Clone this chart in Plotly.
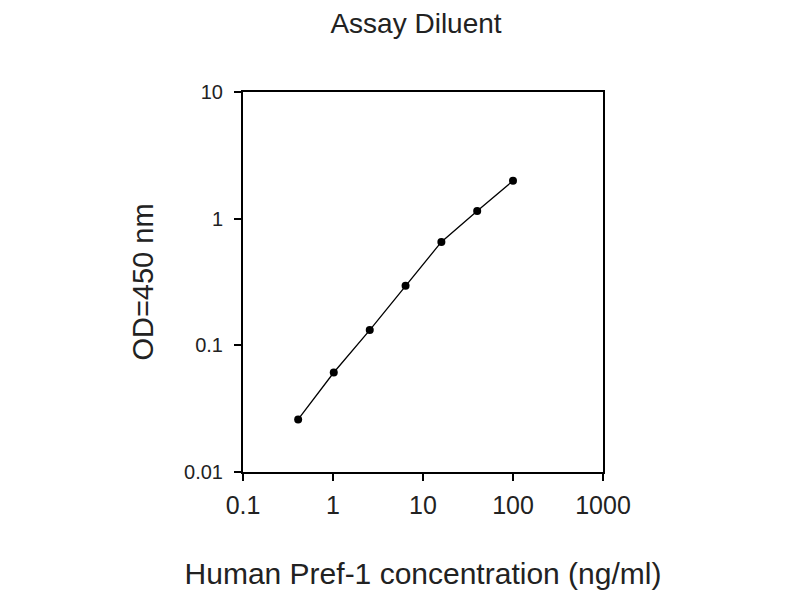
import plotly.graph_objects as go

concentration = [0.41, 1.02, 2.56, 6.4, 16, 40, 100]
od450 = [0.026, 0.061, 0.132, 0.295, 0.655, 1.15, 1.99]

x_tickvals = [0.1, 1, 10, 100, 1000]
x_ticktext = ["0.1", "1", "10", "100", "1000"]
y_tickvals = [0.01, 0.1, 1, 10]
y_ticktext = ["0.01", "0.1", "1", "10"]

font_family = "Liberation Sans, Arial, sans-serif"

fig = go.Figure()
fig.add_trace(go.Scatter(
    x=concentration, y=od450, mode="lines+markers",
    line=dict(color="black", width=1.3),
    marker=dict(color="black", size=8),
    showlegend=False,
))

fig.update_layout(
    width=800, height=600,
    margin=dict(l=235, r=205, t=84, b=136),
    paper_bgcolor="white", plot_bgcolor="white",
    font=dict(family=font_family, color="#222222"),
    title=dict(text="Assay Diluent", x=408/800, xanchor="center",
               y=1 - 15/600, yanchor="middle", font=dict(size=28, color="#222222")),
)
fig.update_xaxes(
    type="log", range=[-1, 3],
    tickvals=x_tickvals, ticktext=x_ticktext,
    ticks="outside", ticklen=7, tickwidth=2, tickcolor="black",
    showline=True, linewidth=2, linecolor="black", mirror=True,
    showgrid=False, zeroline=False,
    ticklabelstandoff=3,
    tickfont=dict(size=25, color="#222222"),
    title=dict(text="Human Pref-1 concentration (ng/ml)", font=dict(size=30, color="#222222"), standoff=45),
)
fig.update_yaxes(
    type="log", range=[-2, 1],
    tickvals=y_tickvals, ticktext=y_ticktext,
    ticks="outside", ticklen=7, tickwidth=2, tickcolor="black",
    showline=True, linewidth=2, linecolor="black", mirror=True,
    showgrid=False, zeroline=False,
    ticklabelstandoff=7,
    tickfont=dict(size=20, color="#222222"),
    title=dict(text="OD=450 nm", font=dict(size=29, color="#222222"), standoff=22),
)

fig.write_html("out.html")
